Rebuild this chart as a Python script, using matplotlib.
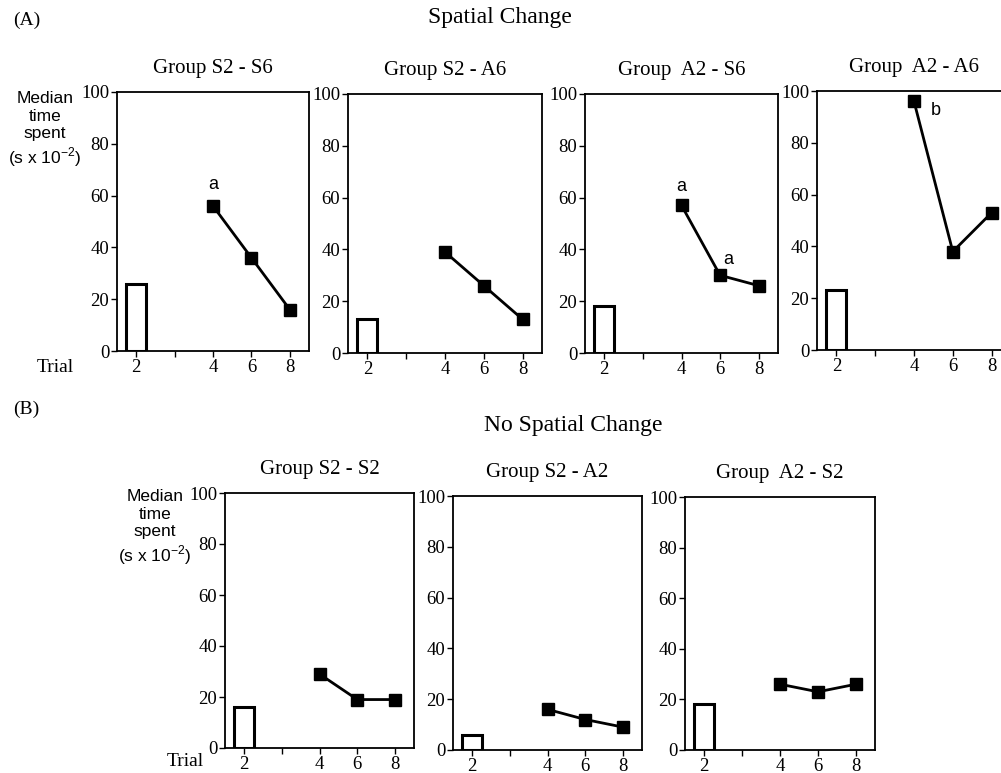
import matplotlib
matplotlib.use("Agg")
import matplotlib.pyplot as plt

W, H = 1001, 773

# ---- data ----
trial_labels = ["2", "", "4", "6", "8"]
line_trials_idx = [2, 3, 4]          # positions of trials 4, 6, 8

titles_a = ["Group S2 - S6", "Group S2 - A6", "Group  A2 - S6", "Group  A2 - A6"]
bars_a = [26, 13, 18, 23]
lines_a = [[56, 36, 16], [39, 26, 13], [57, 30, 26], [96, 38, 53]]

titles_b = ["Group S2 - S2", "Group S2 - A2", "Group  A2 - S2"]
bars_b = [16, 6, 18]
lines_b = [[29, 19, 19], [16, 12, 9], [26, 23, 26]]

# annotations: (panel, x position, y value, text)
notes_a = [(0, 2.0, 61, "a"), (2, 2.0, 61, "a"), (2, 3.2, 33, "a"), (3, 2.55, 89, "b")]

yticks = [0, 20, 40, 60, 80, 100]

# pixel boxes (left, top, right, bottom)
boxes_a = [(117, 92, 309, 351), (348, 94, 542, 353), (585, 94, 778, 353), (817, 91, 1011, 350)]
boxes_b = [(225, 493, 414, 748), (453, 496, 642, 750), (685, 497, 875, 750)]

SERIF = "Liberation Serif"
SANS = "Liberation Sans"

fig = plt.figure(figsize=(W / 100, H / 100), dpi=100)


def add_ax(box):
    l, t, r, b = box
    return fig.add_axes([l / W, 1 - b / H, (r - l) / W, (b - t) / H])


def draw_panel(ax, title, bar, vals):
    x = list(range(len(trial_labels)))
    ax.bar([x[0]], [bar], width=0.52, facecolor="white", edgecolor="black", linewidth=2.2, zorder=2)
    ax.plot(line_trials_idx, vals, color="black", linewidth=2.0, marker="s",
            markersize=9, markerfacecolor="black", markeredgecolor="black", zorder=3, clip_on=False)
    ax.set_xlim(-0.5, 4.5)
    ax.set_ylim(0, 100)
    ax.set_xticks(x)
    ax.set_xticklabels(trial_labels, fontfamily=SERIF, fontsize=13.5)
    ax.set_yticks(yticks)
    ax.set_yticklabels([str(v) for v in yticks], fontfamily=SERIF, fontsize=13.5)
    ax.tick_params(direction="out", length=4, width=1, pad=1.5)
    for s in ax.spines.values():
        s.set_linewidth(1.3)
    ax.set_title(title, fontfamily=SERIF, fontsize=15, pad=14)


axes_a = []
for box, t, b, v in zip(boxes_a, titles_a, bars_a, lines_a):
    ax = add_ax(box)
    draw_panel(ax, t, b, v)
    axes_a.append(ax)

for p, xx, yy, txt in notes_a:
    axes_a[p].text(xx, yy, txt, fontfamily=SANS, fontsize=13, ha="center", va="bottom")

for box, t, b, v in zip(boxes_b, titles_b, bars_b, lines_b):
    ax = add_ax(box)
    draw_panel(ax, t, b, v)

ylab = "Median\ntime\nspent\n(s x 10$^{\\mathregular{-2}}$)"
fig.text(45 / W, 1 - 91 / H, ylab, fontfamily=SANS, fontsize=12.5, ha="center", va="top",
         linespacing=1.22)
fig.text(155 / W, 1 - 489 / H, ylab, fontfamily=SANS, fontsize=12.5, ha="center", va="top",
         linespacing=1.22)
fig.text(55 / W, 1 - 368 / H, "Trial", fontfamily=SERIF, fontsize=14, ha="center", va="center")
fig.text(185 / W, 1 - 762 / H, "Trial", fontfamily=SERIF, fontsize=14, ha="center", va="center")

fig.text(13 / W, 1 - 20 / H, "(A)", fontfamily=SERIF, fontsize=14, ha="left", va="center")
fig.text(500 / W, 1 - 18 / H, "Spatial Change", fontfamily=SERIF, fontsize=17, ha="center", va="center")
fig.text(13 / W, 1 - 409 / H, "(B)", fontfamily=SERIF, fontsize=14, ha="left", va="center")
fig.text(573 / W, 1 - 425 / H, "No Spatial Change", fontfamily=SERIF, fontsize=17, ha="center", va="center")

fig.savefig("out.png", dpi=100)
